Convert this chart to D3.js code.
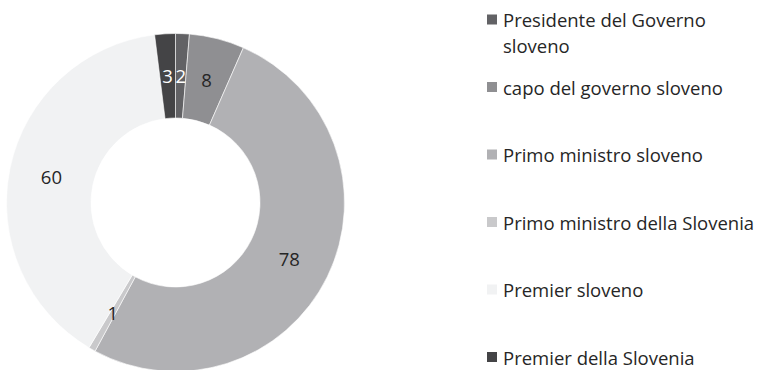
<!DOCTYPE html>
<html>
<head>
<meta charset="utf-8">
<script src="https://cdn.jsdelivr.net/npm/d3@7"></script>
<style>
  html, body { margin: 0; padding: 0; background: #ffffff; }
  svg { display: block; font-family: "Open Sans", Lato, sans-serif; }
</style>
</head>
<body>
<svg id="chart" width="759" height="370"></svg>
<script>
// Answer labels and their counts
const categories = [
  "Presidente del Governo sloveno",
  "capo del governo sloveno",
  "Primo ministro sloveno",
  "Primo ministro della Slovenia",
  "Premier sloveno",
  "Premier della Slovenia"
];
const values = [2, 8, 78, 1, 60, 3];
const colors = ["#626265", "#8f8f92", "#b1b1b4", "#c9c9cb", "#f1f2f3", "#444446"];
const labelColors = ["#ffffff", "#262626", "#262626", "#262626", "#262626", "#ffffff"];
// Legend lines (first entry wraps onto two lines)
const legendLines = [
  ["Presidente del Governo", "sloveno"],
  ["capo del governo sloveno"],
  ["Primo ministro sloveno"],
  ["Primo ministro della Slovenia"],
  ["Premier sloveno"],
  ["Premier della Slovenia"]
];

const svg = d3.select("#chart");
const cx = 175.5, cy = 202.5, outerR = 169, innerR = 84.5;

const pie = d3.pie().sort(null).value(d => d)(values);
const arc = d3.arc().innerRadius(innerR).outerRadius(outerR);

const g = svg.append("g").attr("transform", `translate(${cx},${cy})`);

g.selectAll("path.slice")
  .data(pie)
  .join("path")
  .attr("class", "slice")
  .attr("d", arc)
  .attr("fill", (d, i) => colors[i])
  .attr("stroke", "#ffffff")
  .attr("stroke-width", 0.6);

g.selectAll("text.val")
  .data(pie)
  .join("text")
  .attr("class", "val")
  .attr("transform", d => `translate(${arc.centroid(d)})`)
  .attr("text-anchor", "middle")
  .attr("dominant-baseline", "central")
  .attr("font-size", 18.5)
  .attr("fill", (d, i) => labelColors[i])
  .text(d => d.data);

// Legend
const legendX = 487, legendY0 = 19.5, legendStep = 67.5;
const lg = svg.append("g");
categories.forEach((c, i) => {
  const y = legendY0 + i * legendStep;
  const item = lg.append("g");
  item.append("rect")
    .attr("x", legendX).attr("y", y - 5)
    .attr("width", 10).attr("height", 10)
    .attr("fill", colors[i]);
  legendLines[i].forEach((line, j) => {
    item.append("text")
      .attr("x", legendX + 16)
      .attr("y", y + j * 25.5)
      .attr("dominant-baseline", "central")
      .attr("font-size", 18.5)
      .attr("fill", "#262626")
      .text(line);
  });
});
</script>
</body>
</html>
